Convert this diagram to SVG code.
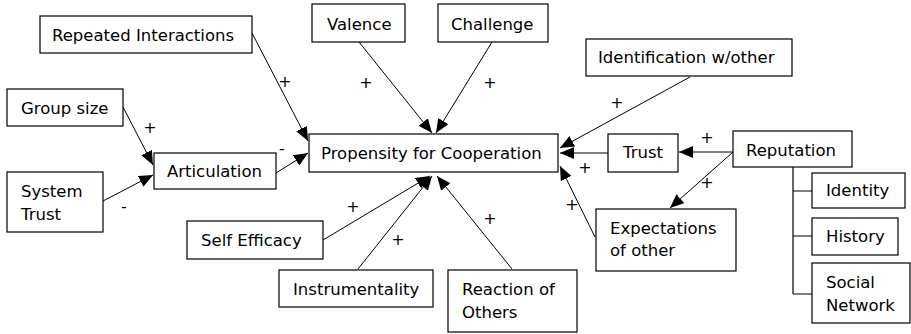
<svg xmlns="http://www.w3.org/2000/svg" width="911" height="334" viewBox="0 0 911 334">
  <style>
    .box { fill: #ffffff; stroke: #000000; stroke-width: 1.2; }
    .lbl { font-family: "DejaVu Sans", Verdana, sans-serif; font-size: 16.5px; fill: #000000; }
    .sign { font-family: "DejaVu Sans", Verdana, sans-serif; font-size: 16px; fill: #000000; text-anchor: middle; }
    .edge { fill: none; stroke: #000000; stroke-width: 1; marker-end: url(#arrow); }
    .tree { fill: none; stroke: #000000; stroke-width: 1.2; }
  </style>
  <defs>
    <marker id="arrow" markerUnits="userSpaceOnUse" markerWidth="14" markerHeight="12" refX="14" refY="6" orient="auto">
      <path d="M0,0 L14,6 L0,12 z" fill="#000000"/>
    </marker>
  </defs>
  <rect width="911" height="334" fill="#ffffff"/>

  <!-- influence connectors -->
  <g id="connectors">
    <line class="edge" x1="252" y1="33" x2="308" y2="141"/>
    <line class="edge" x1="359" y1="42" x2="432" y2="133"/>
    <line class="edge" x1="492" y1="42" x2="436" y2="133"/>
    <line class="edge" x1="690" y1="77" x2="560" y2="148"/>
    <line class="edge" x1="608" y1="153" x2="560" y2="153"/>
    <line class="edge" x1="733" y1="152" x2="679" y2="152"/>
    <line class="edge" x1="733" y1="152" x2="670" y2="208"/>
    <line class="edge" x1="595" y1="237" x2="560" y2="166"/>
    <line class="edge" x1="323" y1="240" x2="430" y2="176"/>
    <line class="edge" x1="358" y1="269" x2="432" y2="176"/>
    <line class="edge" x1="512" y1="269" x2="437" y2="176"/>
    <line class="edge" x1="123" y1="107" x2="153" y2="165"/>
    <line class="edge" x1="103" y1="201" x2="153" y2="175"/>
    <line class="edge" x1="276" y1="173" x2="308" y2="153"/>
    <!-- reputation breakdown -->
    <path class="tree" d="M793,167 V294 M793,191 H812 M793,236 H812 M793,294 H812"/>
  </g>

  <!-- connector signs -->
  <g id="signs">
    <text class="sign" x="285" y="87">+</text>
    <text class="sign" x="366" y="88">+</text>
    <text class="sign" x="490" y="88">+</text>
    <text class="sign" x="617" y="108">+</text>
    <text class="sign" x="707" y="143">+</text>
    <text class="sign" x="707" y="188">+</text>
    <text class="sign" x="585" y="173">+</text>
    <text class="sign" x="572" y="210">+</text>
    <text class="sign" x="353" y="212">+</text>
    <text class="sign" x="398" y="245">+</text>
    <text class="sign" x="490" y="224">+</text>
    <text class="sign" x="150" y="133">+</text>
    <text class="sign" x="124" y="212">-</text>
    <text class="sign" x="282" y="154">-</text>
  </g>

  <g id="repeated-interactions">
    <rect class="box" x="40" y="16" width="212" height="37"/>
    <text class="lbl" x="52" y="41">Repeated Interactions</text>
  </g>
  <g id="group-size">
    <rect class="box" x="7" y="89" width="116" height="37"/>
    <text class="lbl" x="21" y="114">Group size</text>
  </g>
  <g id="system-trust">
    <rect class="box" x="7" y="172" width="96" height="60"/>
    <text class="lbl" x="21" y="197">System</text>
    <text class="lbl" x="21" y="220">Trust</text>
  </g>
  <g id="articulation">
    <rect class="box" x="154" y="153" width="122" height="36"/>
    <text class="lbl" x="167" y="177">Articulation</text>
  </g>
  <g id="valence">
    <rect class="box" x="312" y="4" width="93" height="38"/>
    <text class="lbl" x="327" y="30">Valence</text>
  </g>
  <g id="challenge">
    <rect class="box" x="438" y="4" width="110" height="38"/>
    <text class="lbl" x="451" y="30">Challenge</text>
  </g>
  <g id="propensity">
    <rect class="box" x="309" y="134" width="249" height="38"/>
    <text class="lbl" x="321" y="159">Propensity for Cooperation</text>
  </g>
  <g id="identification">
    <rect class="box" x="586" y="39" width="206" height="37"/>
    <text class="lbl" x="598" y="63">Identification w/other</text>
  </g>
  <g id="trust">
    <rect class="box" x="608" y="134" width="70" height="38"/>
    <text class="lbl" x="623" y="158">Trust</text>
  </g>
  <g id="reputation">
    <rect class="box" x="733" y="131" width="119" height="36"/>
    <text class="lbl" x="746" y="156">Reputation</text>
  </g>
  <g id="identity">
    <rect class="box" x="812" y="173" width="93" height="35"/>
    <text class="lbl" x="826" y="196">Identity</text>
  </g>
  <g id="history">
    <rect class="box" x="812" y="218" width="86" height="37"/>
    <text class="lbl" x="826" y="242">History</text>
  </g>
  <g id="social-network">
    <rect class="box" x="812" y="263" width="98" height="60"/>
    <text class="lbl" x="826" y="288">Social</text>
    <text class="lbl" x="826" y="311">Network</text>
  </g>
  <g id="expectations">
    <rect class="box" x="596" y="209" width="140" height="62"/>
    <text class="lbl" x="610" y="234">Expectations</text>
    <text class="lbl" x="610" y="256">of other</text>
  </g>
  <g id="self-efficacy">
    <rect class="box" x="187" y="221" width="136" height="38"/>
    <text class="lbl" x="201" y="246">Self Efficacy</text>
  </g>
  <g id="instrumentality">
    <rect class="box" x="279" y="270" width="154" height="37"/>
    <text class="lbl" x="293" y="295">Instrumentality</text>
  </g>
  <g id="reaction">
    <rect class="box" x="448" y="270" width="129" height="62"/>
    <text class="lbl" x="462" y="295">Reaction of</text>
    <text class="lbl" x="462" y="318">Others</text>
  </g>
</svg>
